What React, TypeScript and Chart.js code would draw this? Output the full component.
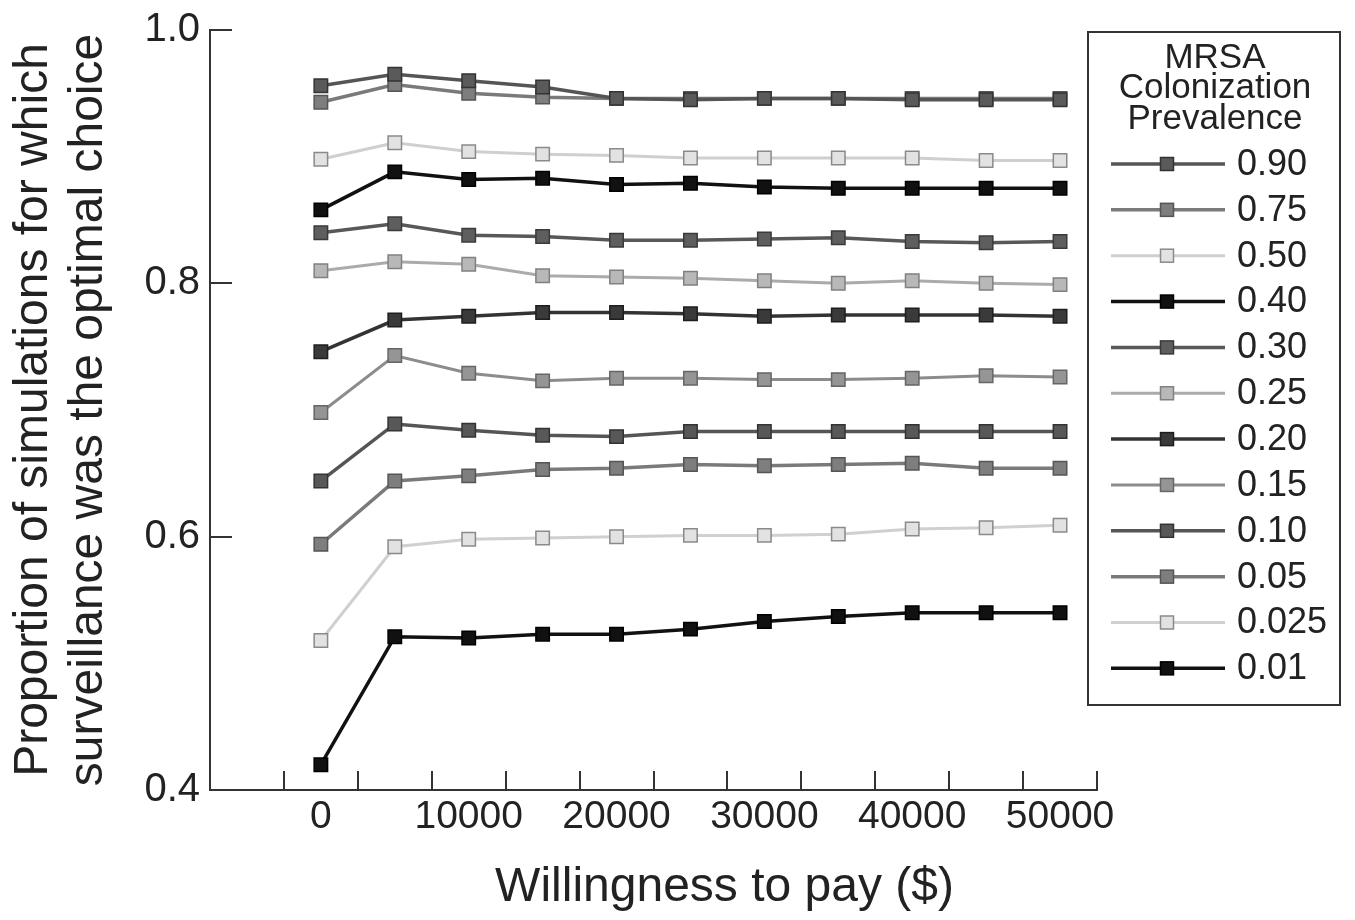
import React, { useEffect, useRef } from "react";
import { Chart, registerables } from "chart.js";

Chart.register(...registerables);

// ---------- data ----------
const wtp = [0, 5000, 10000, 15000, 20000, 25000, 30000, 35000, 40000, 45000, 50000];
const prevalenceLabels = ["0.90", "0.75", "0.50", "0.40", "0.30", "0.25", "0.20", "0.15", "0.10", "0.05", "0.025", "0.01"];

const s090 = [0.956, 0.965, 0.960, 0.955, 0.946, 0.945, 0.946, 0.946, 0.945, 0.945, 0.945];
const s075 = [0.943, 0.957, 0.950, 0.947, 0.946, 0.946, 0.946, 0.946, 0.946, 0.946, 0.946];
const s050 = [0.898, 0.911, 0.904, 0.902, 0.901, 0.899, 0.899, 0.899, 0.899, 0.897, 0.897];
const s040 = [0.858, 0.888, 0.882, 0.883, 0.878, 0.879, 0.876, 0.875, 0.875, 0.875, 0.875];
const s030 = [0.840, 0.847, 0.838, 0.837, 0.834, 0.834, 0.835, 0.836, 0.833, 0.832, 0.833];
const s025 = [0.810, 0.817, 0.815, 0.806, 0.805, 0.804, 0.802, 0.800, 0.802, 0.800, 0.799];
const s020 = [0.746, 0.771, 0.774, 0.777, 0.777, 0.776, 0.774, 0.775, 0.775, 0.775, 0.774];
const s015 = [0.698, 0.743, 0.729, 0.723, 0.725, 0.725, 0.724, 0.724, 0.725, 0.727, 0.726];
const s010 = [0.644, 0.689, 0.684, 0.680, 0.679, 0.683, 0.683, 0.683, 0.683, 0.683, 0.683];
const s005 = [0.594, 0.644, 0.648, 0.653, 0.654, 0.657, 0.656, 0.657, 0.658, 0.654, 0.654];
const s0025 = [0.518, 0.592, 0.598, 0.599, 0.600, 0.601, 0.601, 0.602, 0.606, 0.607, 0.609];
const s001 = [0.420, 0.521, 0.520, 0.523, 0.523, 0.527, 0.533, 0.537, 0.540, 0.540, 0.540];

const seriesValues = [s090, s075, s050, s040, s030, s025, s020, s015, s010, s005, s0025, s001];

const xTickLabels = [0, 10000, 20000, 30000, 40000, 50000];
const xTickMarks = [-2500, 2500, 7500, 12500, 17500, 22500, 27500, 32500, 37500, 42500, 47500, 52500];
const xMin = -7500;
const xMax = 52500;
const yTickLabels = [0.4, 0.6, 0.8, 1.0];
const yTickMarks = [0.6, 0.8, 1.0];
const yMin = 0.4;
const yMax = 1.0;

const xTitle = "Willingness to pay ($)";
const yTitle = ["Proportion of simulations for which", "surveillance was the optimal choice"];
const legendTitle = ["MRSA", "Colonization", "Prevalence"];

// ---------- styles ----------
const lineColors = ["#555555", "#7a7a7a", "#cfcfcf", "#111111", "#585858", "#ababab", "#333333", "#8c8c8c", "#555555", "#7a7a7a", "#d0d0d0", "#111111"];
const pointFills = ["#5a5a5a", "#7e7e7e", "#e2e2e2", "#111111", "#5e5e5e", "#b8b8b8", "#3a3a3a", "#959595", "#585858", "#7e7e7e", "#e2e2e2", "#111111"];
const pointBorders = ["#333333", "#555555", "#8a8a8a", "#000000", "#3a3a3a", "#808080", "#1e1e1e", "#666666", "#333333", "#555555", "#8a8a8a", "#000000"];
const lineWidths = [3.5, 3.5, 3, 3.5, 3.5, 3, 3.5, 3, 3.5, 3.5, 3, 3.5];

const FONT = "'Liberation Sans', Arial, Helvetica, sans-serif";
const TEXT = "#222222";
const AXIS = "#333333";

const tickMarkPlugin = {
  id: "innerTicks",
  afterDraw(chart: any) {
    const { ctx, chartArea, scales } = chart;
    ctx.save();
    ctx.strokeStyle = AXIS;
    ctx.lineWidth = 2;
    ctx.beginPath();
    for (const v of xTickMarks) {
      const px = Math.round(scales.x.getPixelForValue(v));
      ctx.moveTo(px, chartArea.bottom);
      ctx.lineTo(px, chartArea.bottom - 19);
    }
    for (const v of yTickMarks) {
      const py = Math.round(scales.y.getPixelForValue(v));
      ctx.moveTo(chartArea.left, py);
      ctx.lineTo(chartArea.left + 22, py);
    }
    ctx.stroke();

    // x-axis title
    ctx.fillStyle = TEXT;
    ctx.font = `48px ${FONT}`;
    ctx.textAlign = "center";
    ctx.textBaseline = "middle";
    ctx.fillText(xTitle, chartArea.left + (chartArea.right - chartArea.left) / 2 + 71, chartArea.bottom + 98);
    ctx.restore();
  },
};

const legendPlugin = {
  id: "boxLegend",
  afterDraw(chart: any) {
    const { ctx, chartArea } = chart;
    const left = chartArea.right - 9;
    const top = chartArea.top + 2;
    const w = 252;
    const h = 673;
    ctx.save();
    ctx.strokeStyle = AXIS;
    ctx.lineWidth = 2;
    ctx.strokeRect(left, top, w, h);

    ctx.fillStyle = TEXT;
    ctx.font = `35px ${FONT}`;
    ctx.textAlign = "center";
    ctx.textBaseline = "middle";
    legendTitle.forEach((t, i) => ctx.fillText(t, left + 127, top + 26 + i * 30.5));

    chart.data.datasets.forEach((ds: any, i: number) => {
      const y = top + 132 + i * 45.85;
      ctx.strokeStyle = ds.borderColor;
      ctx.lineWidth = ds.borderWidth;
      ctx.beginPath();
      ctx.moveTo(left + 23, y);
      ctx.lineTo(left + 137, y);
      ctx.stroke();
      const s = 13;
      const cx = left + 79;
      ctx.fillStyle = ds.pointBackgroundColor;
      ctx.fillRect(cx - s / 2, y - s / 2, s, s);
      ctx.strokeStyle = ds.pointBorderColor;
      ctx.lineWidth = 1.5;
      ctx.strokeRect(cx - s / 2, y - s / 2, s, s);
      ctx.fillStyle = TEXT;
      ctx.font = `36px ${FONT}`;
      ctx.textAlign = "left";
      ctx.textBaseline = "middle";
      ctx.fillText(ds.label, left + 149, y + 1);
    });
    ctx.restore();
  },
};

export default function App() {
  const canvasRef = useRef<HTMLCanvasElement | null>(null);

  useEffect(() => {
    const canvas = canvasRef.current;
    if (!canvas) return;
    const datasets = seriesValues.map((vals, i) => ({
      label: prevalenceLabels[i],
      data: wtp.map((x, j) => ({ x, y: vals[j] })),
      borderColor: lineColors[i],
      backgroundColor: pointFills[i],
      borderWidth: lineWidths[i],
      pointStyle: "rect",
      pointRadius: 9.5,
      pointBackgroundColor: pointFills[i],
      pointBorderColor: pointBorders[i],
      pointBorderWidth: 1.5,
      tension: 0,
      fill: false,
      clip: false,
    }));

    const chart = new Chart(canvas, {
      type: "line",
      data: { datasets },
      plugins: [tickMarkPlugin, legendPlugin],
      options: {
        animation: false,
        responsive: false,
        devicePixelRatio: 1,
        layout: { padding: { top: 28, right: 258, bottom: 0, left: 0 } },
        plugins: {
          legend: { display: false },
          tooltip: { enabled: false },
        },
        scales: {
          x: {
            type: "linear",
            min: xMin,
            max: xMax,
            afterBuildTicks: (scale: any) => {
              scale.ticks = xTickLabels.map((v) => ({ value: v }));
            },
            afterFit: (scale: any) => {
              scale.height = 130;
            },
            grid: { display: true, drawOnChartArea: false, drawTicks: false },
            border: { display: true, color: AXIS, width: 2 },
            ticks: {
              autoSkip: false,
              maxRotation: 0,
              padding: 8,
              color: TEXT,
              font: { family: FONT, size: 39, lineHeight: 1.0 },
              callback: (v: any) => String(v),
            },
            title: { display: false },
          },
          y: {
            type: "linear",
            min: yMin,
            max: yMax,
            afterBuildTicks: (scale: any) => {
              scale.ticks = yTickLabels.map((v) => ({ value: v }));
            },
            afterFit: (scale: any) => {
              scale.width = 210;
            },
            grid: { display: true, drawOnChartArea: false, drawTicks: false },
            border: { display: true, color: AXIS, width: 2 },
            ticks: {
              padding: 10,
              color: TEXT,
              font: { family: FONT, size: 40, lineHeight: 1.0 },
              callback: (v: any) => Number(v).toFixed(1),
            },
            title: {
              display: true,
              text: yTitle,
              color: TEXT,
              padding: { top: 6, bottom: 0 },
              font: { family: FONT, size: 48, lineHeight: 1.15 },
            },
          },
        },
      } as any,
    });
    return () => chart.destroy();
  }, []);

  return (
    <div style={{ position: "fixed", left: 0, top: 0, width: 1355, height: 920, background: "#ffffff" }}>
      <canvas ref={canvasRef} width={1355} height={920} style={{ display: "block" }} />
    </div>
  );
}
